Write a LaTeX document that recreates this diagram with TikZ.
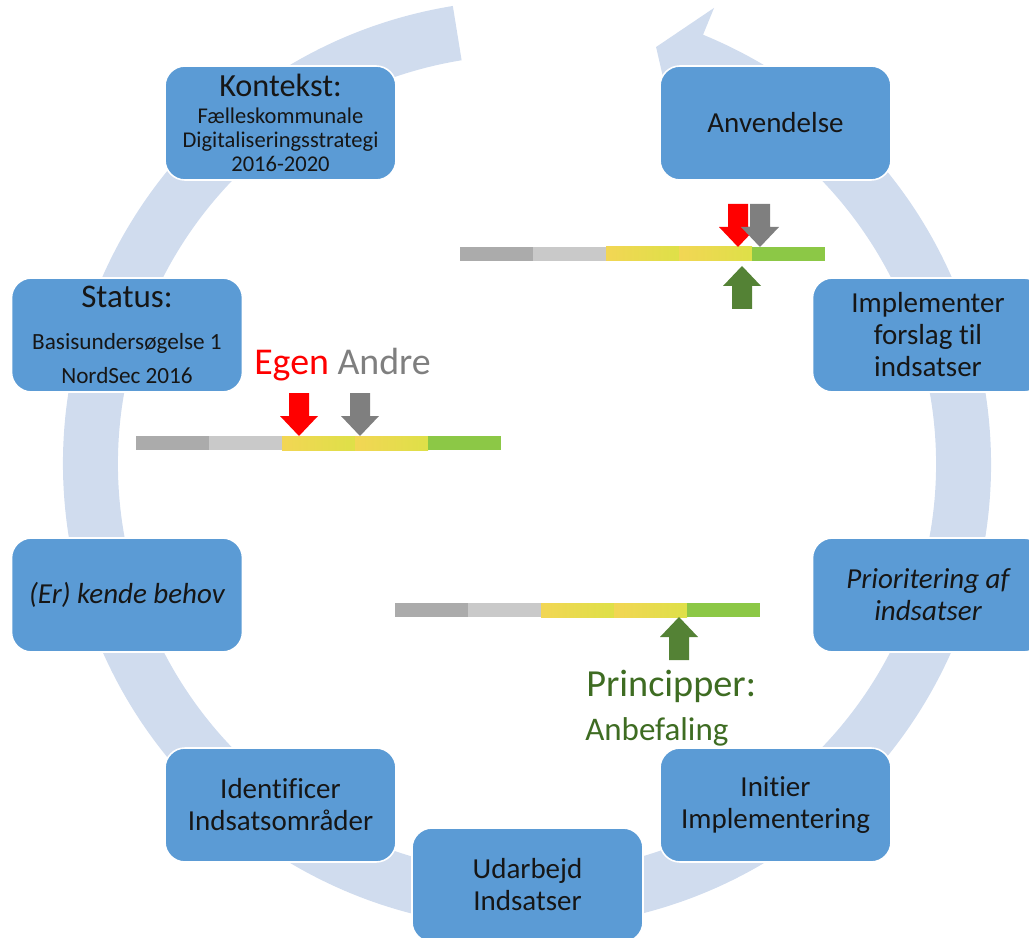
\documentclass[tikz,border=0pt]{standalone}
\usepackage{fontspec}
\setmainfont{Carlito}[RawFeature={-liga;-calt;-clig}]
\usetikzlibrary{calc}
\definecolor{boxblue}{RGB}{91,155,213}
\definecolor{bandblue}{RGB}{208,220,238}
\definecolor{txtdark}{RGB}{22,22,22}
\definecolor{barDark}{RGB}{171,171,171}
\definecolor{barLight}{RGB}{201,201,201}
\definecolor{yelA}{RGB}{242,214,84}
\definecolor{yelB}{RGB}{222,224,72}
\definecolor{barGreen}{RGB}{140,200,70}
\definecolor{arrGreen}{RGB}{84,130,53}
\definecolor{arrGray}{RGB}{127,127,127}
\definecolor{txtGreen}{RGB}{62,108,34}
\tikzset{
  stage/.style={draw=white, line width=1.2pt, fill=boxblue, rounded corners=15pt,
    minimum width=173.25pt, minimum height=85.5pt, align=center, text=txtdark,
    inner sep=0pt, font=\fontsize{21.75}{24}\selectfont},
  pics/scalebar/.style={code={
    \fill[barDark] (0,0) rectangle (73,-14);
    \fill[barLight] (73,0) rectangle (146,-14);
    \shade[left color=yelA, right color=yelB] (146,0) rectangle (219,-14);
    \shade[left color=yelA, right color=yelB] (219,0) rectangle (292,-14);
    \fill[barGreen] (292,0) rectangle (365,-14);
  }},
  pics/blockarrow/.style={code={
    \fill[#1] (0,0) -- (-19,20) -- (-10,20) -- (-10,43) -- (10,43) -- (10,20) -- (19,20) -- cycle;
  }}
}
\begin{document}
\begin{tikzpicture}[x=0.75pt,y=0.75pt]
\useasboundingbox (0,0) rectangle (1029,-938);
\clip (0,0) rectangle (1029,-938);
\coordinate (C) at (527,-464);
% circular arrow band
\fill[bandblue] ($(C)+(99.2:464)$) arc[start angle=99.2, end angle=427.7, radius=464]
  -- ($(C)+(67.7:493)$) -- ($(C)+(72.8:436.5)$) -- ($(C)+(67.7:380)$)
  -- ($(C)+(67.7:409)$) arc[start angle=427.7, end angle=99.2, radius=409] -- cycle;
% stages
\node[stage, font=\fontsize{16.9}{18}\selectfont] (ctx) at (280.5,-123) {{\fontsize{24.2}{26}\selectfont Kontekst:}\\[2.4pt]Fælleskommunale\\Digitaliseringsstrategi\\2016-2020};
\node[stage] (anv) at (775.5,-123) {Anvendelse};
\node[stage] (impl) at (928,-335) {Implementer\\forslag til\\indsatser};
\node[stage] (prio) at (928,-595) {\itshape Prioritering af\\\itshape indsatser};
\node[stage] (init) at (775.5,-805) {Initier\\Implementering};
\node[stage] (udarb) at (527.5,-885) {Udarbejd\\Indsatser};
\node[stage] (ident) at (280.5,-805) {Identificer\\Indsatsområder};
\node[stage] (kende) at (127,-595) {\itshape (Er) kende behov};
\node[stage, font=\fontsize{17.4}{25.5}\selectfont] (status) at (127,-335) {{\fontsize{24.75}{26}\selectfont Status:}\\[6pt]Basisundersøgelse 1\\NordSec 2016};
% bar 1 (status)
\pic at (136,-436) {scalebar};
\pic at (299,-436) {blockarrow=red};
\pic at (360,-436) {blockarrow=arrGray};
\node[anchor=base west, inner sep=0pt, font=\fontsize{28.4}{30}\selectfont] (egen) at (254,-374) {\textcolor{red}{Egen} \textcolor{arrGray}{Andre}};
% bar 2 (anvendelse)
\pic at (460,-247) {scalebar};
\pic at (738,-247) {blockarrow=red};
\pic at (760,-247) {blockarrow=arrGray};
\pic[rotate=180] at (742,-266) {blockarrow=arrGreen};
% bar 3 (principper)
\pic at (395,-603) {scalebar};
\pic[rotate=180] at (679,-617) {blockarrow=arrGreen};
\node[anchor=base west, inner sep=0pt, text=txtGreen, font=\fontsize{28.7}{30}\selectfont] (princ) at (586,-696) {Principper:};
\node[anchor=base west, inner sep=0pt, text=txtGreen, font=\fontsize{24.75}{27}\selectfont] (anbef) at (585,-740) {Anbefaling};
\end{tikzpicture}
\end{document}
